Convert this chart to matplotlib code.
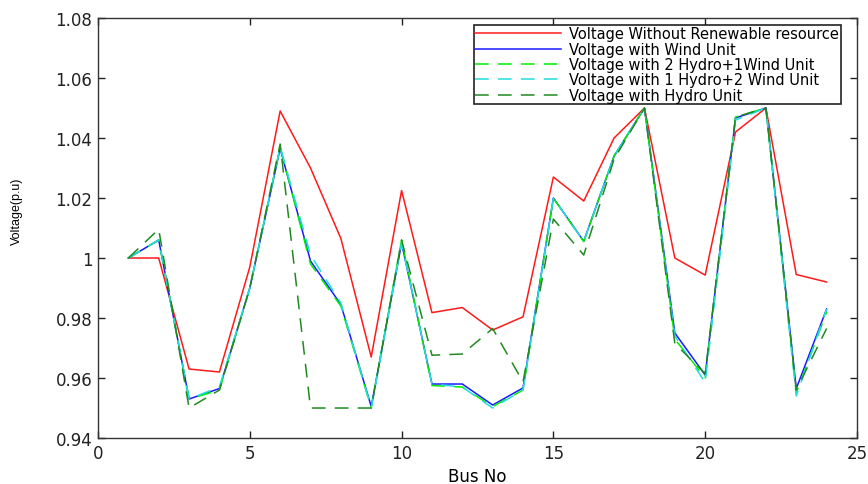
import matplotlib.pyplot as plt
import numpy as np

# Datos
bus = np.arange(1, 25)

v_sin_renovable = [1.000, 1.000, 0.963, 0.962, 0.997, 1.049, 1.030, 1.0065, 0.967, 1.0225,
                   0.9818, 0.9835, 0.976, 0.9804, 1.027, 1.019, 1.040, 1.050, 1.000, 0.9943,
                   1.042, 1.050, 0.9945, 0.992]
v_eolica = [1.000, 1.006, 0.953, 0.9565, 0.990, 1.0365, 0.999, 0.9845, 0.9505, 1.005,
            0.958, 0.958, 0.951, 0.9567, 1.020, 1.0056, 1.034, 1.050, 0.975, 0.961,
            1.0467, 1.050, 0.9565, 0.983]
v_2hidro_1eolica = [1.000, 1.006, 0.953, 0.956, 0.990, 1.037, 0.998, 0.984, 0.950, 1.006,
                    0.9575, 0.957, 0.9505, 0.956, 1.020, 1.0055, 1.034, 1.050, 0.973, 0.960,
                    1.047, 1.050, 0.955, 0.982]
v_1hidro_2eolica = [1.000, 1.006, 0.953, 0.957, 0.990, 1.037, 1.001, 0.985, 0.950, 1.005,
                    0.958, 0.957, 0.950, 0.956, 1.020, 1.0055, 1.034, 1.050, 0.974, 0.9585,
                    1.046, 1.050, 0.954, 0.983]
v_hidro = [1.000, 1.0096, 0.950, 0.956, 0.990, 1.038, 0.950, 0.950, 0.950, 1.006,
           0.9676, 0.968, 0.9765, 0.9587, 1.013, 1.001, 1.033, 1.050, 0.9715, 0.9615,
           1.047, 1.050, 0.956, 0.9765]

etiquetas = [
    "Voltage Without Renewable resource",
    "Voltage with Wind Unit",
    "Voltage with 2 Hydro+1Wind Unit",
    "Voltage with 1 Hydro+2 Wind Unit",
    "Voltage with Hydro Unit",
]

plt.rcParams["font.family"] = ["DejaVu Sans"]

fig = plt.figure(figsize=(8.68, 4.85), dpi=100)
ax = fig.add_axes([0.1129, 0.0948, 0.8744, 0.866])

dash = (9, 6)
ax.plot(bus, v_sin_renovable, color="#ff1a1a", lw=1.1, label=etiquetas[0])
ax.plot(bus, v_eolica, color="#1a1aff", lw=1.1, label=etiquetas[1])
ax.plot(bus, v_2hidro_1eolica, color="#00ee00", lw=1.1, dashes=dash, label=etiquetas[2])
ax.plot(bus, v_1hidro_2eolica, color="#22dddd", lw=1.1, dashes=dash, label=etiquetas[3])
ax.plot(bus, v_hidro, color="#1f8a1f", lw=1.1, dashes=dash, label=etiquetas[4])

ax.set_xlim(0, 25)
ax.set_ylim(0.94, 1.08)
ax.set_xticks(np.arange(0, 26, 5))
y_ticks = np.round(np.arange(0.94, 1.081, 0.02), 2)
ax.set_yticks(y_ticks)
ax.set_yticklabels([f"{t:g}" for t in y_ticks])
ax.tick_params(direction="in", length=5, width=1, top=True, right=True,
               labelsize=12, colors="#222222", pad=4)
for s in ax.spines.values():
    s.set_color("#333333")
    s.set_linewidth(1.0)

ax.set_xlabel("Bus No", fontsize=12, labelpad=4)
ax.set_ylabel("Voltage(p.u)", fontsize=9, family="Liberation Sans")
ax.yaxis.set_label_coords(-0.099, 0.543)

leg = ax.legend(loc="upper right", bbox_to_anchor=(0.979, 0.984), fontsize=10.5,
                handlelength=5.9, handletextpad=0.55, labelspacing=0.02,
                borderpad=0.12, borderaxespad=0, fancybox=False, framealpha=1)
leg.get_frame().set_edgecolor("#222222")
leg.get_frame().set_linewidth(1.2)

fig.savefig("out.png", dpi=100)
